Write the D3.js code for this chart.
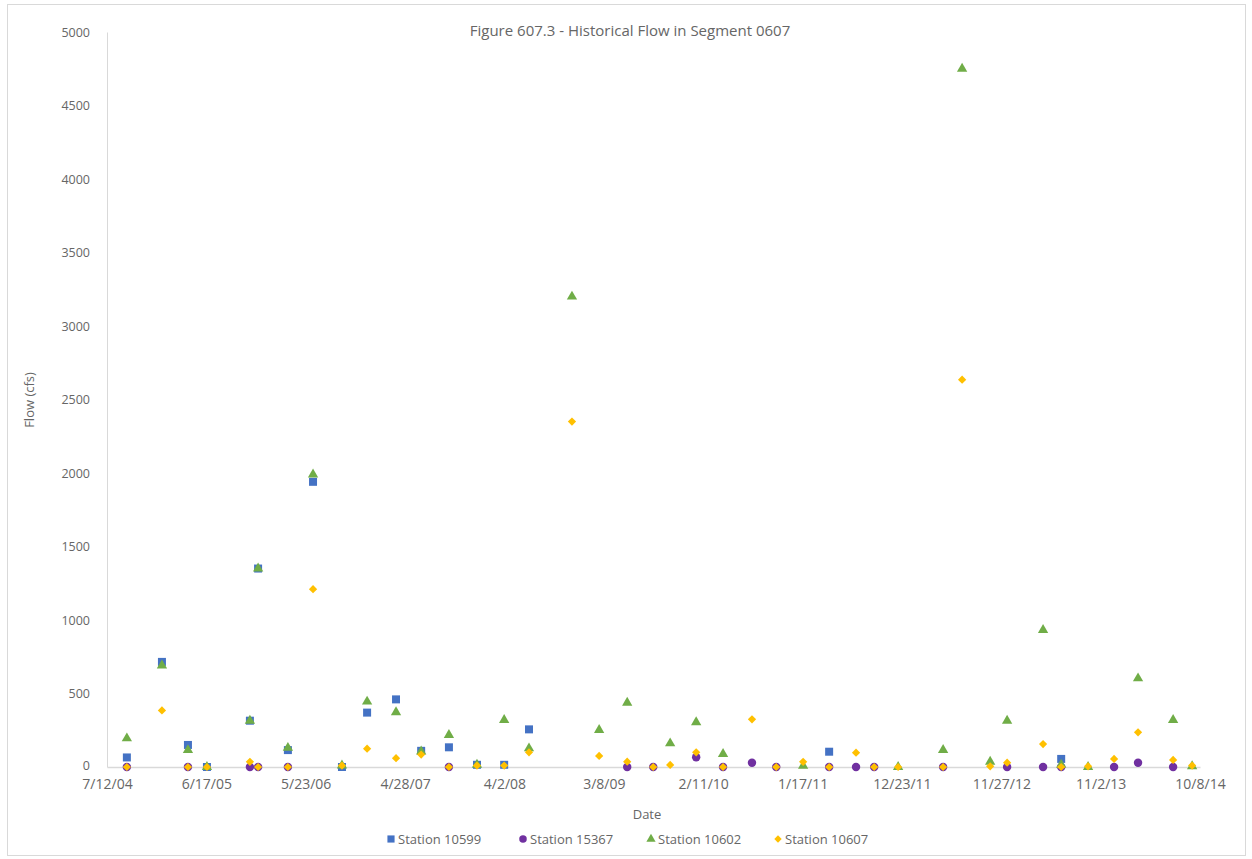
<!DOCTYPE html>
<html>
<head>
<meta charset="utf-8">
<script src="https://cdn.jsdelivr.net/npm/d3@7/dist/d3.min.js"></script>
<style>
  html, body { margin: 0; padding: 0; background: #fff; }
  svg text { font-family: "Open Sans", "DejaVu Sans", sans-serif; fill: #666; }
</style>
</head>
<body>
<svg id="chart" width="1252" height="859"></svg>
<script>
// Sampling dates shared by the four stations
const sampleDates = [
  "2004-09-18","2005-01-16","2005-04-15","2005-06-19","2005-11-13","2005-12-11",
  "2006-03-23","2006-06-17","2006-09-24","2006-12-19","2007-03-28","2007-06-22",
  "2007-09-25","2007-12-30","2008-04-01","2008-06-25","2008-11-19","2009-02-20",
  "2009-05-27","2009-08-24","2009-10-21","2010-01-18","2010-04-20","2010-07-28",
  "2010-10-19","2011-01-19","2011-04-18","2011-07-19","2011-09-19","2011-12-10",
  "2012-05-12","2012-07-16","2012-10-20","2012-12-17","2013-04-19","2013-06-20",
  "2013-09-20","2013-12-18","2014-03-10","2014-07-08","2014-09-11"
];

// Flow (cfs) per station; null = not sampled
const station10599 = [
  65, 715, 150, 0, 315, 1350, 115, 1940, 0, 370, 460, 110,
  134, 15, 15, 256, null, null, null, null, null, null, null, null,
  null, null, 104, null, null, null, null, null, null, null, null, 55,
  null, null, null, null, null
];
const station15367 = [
  0, null, 0, null, 0, 0, 0, null, null, null, null, null,
  0, null, null, null, null, null, 0, 0, null, 66, 0, 29,
  0, null, 0, 0, 0, null, 0, null, null, 0, 0, 0,
  null, 0, 29, 0, null
];
const station10602 = [
  195, 690, 115, 0, 315, 1350, 130, 1990, 10, 445, 372, 105,
  218, 15, 320, 127, 3200, 252, 437, null, 161, 304, 88, null,
  null, 8, null, null, null, 0, 116, 4750, 36, 315, 932, 15,
  0, null, 603, 320, 5
];
const station10607 = [
  0, 385, 0, 0, 35, 0, 0, 1210, 10, 125, 60, 85,
  0, 10, 10, 100, 2350, 75, 36, 0, 14, 100, 0, 324,
  0, 35, 0, 97, 0, 0, 0, 2635, 5, 29, 156, 0,
  5, 55, 236, 48, 10
];

const seriesNames = ["Station 10599", "Station 15367", "Station 10602", "Station 10607"];
const seriesValues = [station10599, station15367, station10602, station10607];
const seriesColors = ["#4472C4", "#7030A0", "#70AD47", "#FFC000"];
const seriesSymbols = [d3.symbolSquare, d3.symbolCircle, d3.symbolTriangle, d3.symbolSquare];
const seriesRotate = [0, 0, 0, 45];
const seriesSizes = [64, 56, 46, 34];

const xTickLabels = ["7/12/04","6/17/05","5/23/06","4/28/07","4/2/08","3/8/09",
  "2/11/10","1/17/11","12/23/11","11/27/12","11/2/13","10/8/14"];
const yTicks = [0, 500, 1000, 1500, 2000, 2500, 3000, 3500, 4000, 4500, 5000];

const chartTitle = "Figure 607.3 - Historical Flow in Segment 0607";

const svg = d3.select("#chart");
const plot = { left: 107, right: 1200, top: 32, bottom: 767 };

// outer chart border
svg.append("rect")
  .attr("x", 7.5).attr("y", 4.5).attr("width", 1238).attr("height", 851)
  .attr("fill", "#fff").attr("stroke", "#d9d9d9").attr("stroke-width", 1);

const parseTick = d3.utcParse("%m/%d/%y");
const parseDate = d3.utcParse("%Y-%m-%d");
const tickDates = xTickLabels.map(parseTick);

const x = d3.scaleUtc()
  .domain([tickDates[0], tickDates[tickDates.length - 1]])
  .range([plot.left, plot.right]);
const y = d3.scaleLinear().domain([0, 5000]).range([plot.bottom, plot.top]);

// y axis
const yAxis = svg.append("g")
  .attr("transform", `translate(${plot.left},0)`)
  .call(d3.axisLeft(y).tickValues(yTicks).tickSize(0).tickPadding(17).tickFormat(d3.format("d")));
yAxis.select(".domain").attr("stroke", "#d9d9d9");
yAxis.selectAll("text").style("font-size", "12.5px");
// lift the zero label slightly so it clears the first date label
yAxis.selectAll(".tick").filter(d => d === 0).select("text").attr("dy", "0.2em");

// x axis
const xAxis = svg.append("g")
  .attr("transform", `translate(0,${plot.bottom})`)
  .call(d3.axisBottom(x).tickValues(tickDates).tickSize(0).tickPadding(12)
    .tickFormat((d, i) => xTickLabels[i]));
xAxis.select(".domain").attr("stroke", "#d9d9d9").attr("stroke-width", 1.5);
xAxis.selectAll("text").style("font-size", "14px");

// points, drawn series by series
seriesValues.forEach((vals, s) => {
  const pts = sampleDates.map((d, i) => ({ date: parseDate(d), value: vals[i] }))
    .filter(p => p.value !== null);
  svg.append("g").selectAll("path")
    .data(pts)
    .join("path")
    .attr("d", d3.symbol().type(seriesSymbols[s]).size(seriesSizes[s]))
    .attr("transform", p => `translate(${x(p.date)},${y(p.value)}) rotate(${seriesRotate[s]})`)
    .attr("fill", seriesColors[s]);
});

// title
svg.append("text")
  .attr("x", 630).attr("y", 36)
  .attr("text-anchor", "middle")
  .style("font-size", "15px")
  .text(chartTitle);

// axis titles
svg.append("text")
  .attr("x", 647).attr("y", 819)
  .attr("text-anchor", "middle")
  .style("font-size", "13px")
  .text("Date");
svg.append("text")
  .attr("transform", "translate(34,400) rotate(-90)")
  .attr("text-anchor", "middle")
  .style("font-size", "13px")
  .text("Flow (cfs)");

// legend
const legendX = [391, 523, 651, 778];
const legend = svg.append("g");
seriesNames.forEach((name, s) => {
  const g = legend.append("g").attr("transform", `translate(${legendX[s]},839)`);
  g.append("path")
    .attr("d", d3.symbol().type(seriesSymbols[s]).size(seriesSizes[s] * 0.8))
    .attr("transform", `rotate(${seriesRotate[s]})`)
    .attr("fill", seriesColors[s]);
  g.append("text").attr("x", 7).attr("y", 4.5)
    .style("font-size", "13px")
    .text(name);
});
</script>
</body>
</html>
